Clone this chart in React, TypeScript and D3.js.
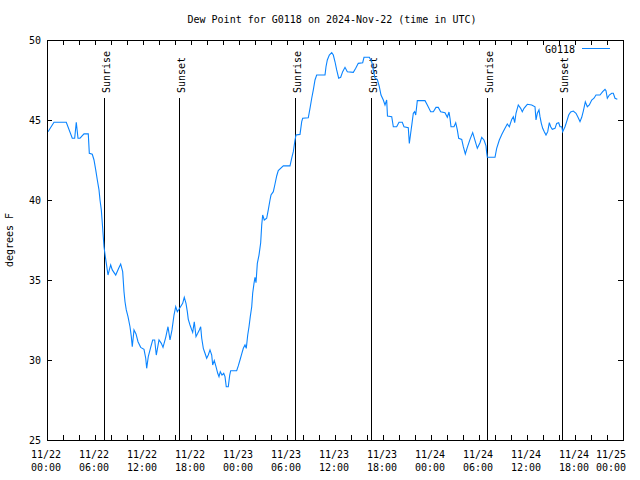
import React from "react";
import * as d3 from "d3";

const TITLE = "Dew Point for G0118 on 2024-Nov-22 (time in UTC)";
const SERIES_NAME = "G0118";
const Y_LABEL = "degrees F";
const START = Date.UTC(2024, 10, 22, 0, 0);

const hoursSinceStart = [0.125,0.875,2.41,3.16,3.46,3.66,3.875,4.125,4.625,5.16,5.29,5.66,5.875,6.09,6.29,6.5,6.625,6.79,6.96,7.125,7.29,7.46,7.625,7.79,7.96,8.16,8.59,8.96,9.21,9.46,9.625,9.75,9.91,10.125,10.375,10.54,10.66,10.875,11.125,11.375,11.71,12.125,12.34,12.46,12.66,12.96,13.21,13.46,13.66,14.0,14.29,14.5,14.84,15.125,15.375,15.625,15.875,16.09,16.29,16.5,16.96,17.16,17.375,17.54,17.66,17.875,18.09,18.21,18.41,18.625,18.84,19.04,19.21,19.34,19.54,19.75,19.96,20.16,20.375,20.59,20.71,20.91,21.125,21.34,21.5,21.66,21.875,22.09,22.25,22.41,22.66,22.84,22.96,23.71,23.91,24.125,24.34,24.54,24.75,24.91,25.09,25.25,25.41,25.59,25.71,25.875,26.0,26.125,26.29,26.5,26.71,26.84,26.96,27.16,27.46,27.66,27.875,28.0,28.29,28.5,28.71,28.91,29.54,30.375,30.59,30.79,31.0,31.125,31.625,31.84,31.96,32.66,32.875,33.09,33.29,33.5,33.71,34.75,34.875,35.04,35.29,35.59,35.79,36.0,36.21,36.46,36.71,36.96,37.25,37.54,38.29,38.59,38.91,39.46,39.625,40.29,40.59,40.79,41.0,41.29,41.54,41.75,42.04,42.25,42.46,42.56,43.09,43.29,43.71,44.0,44.41,44.625,45.16,45.29,45.46,45.625,45.79,45.96,46.09,46.29,47.25,47.54,47.96,48.29,48.625,48.91,49.21,49.75,50.04,50.25,50.375,50.5,50.875,51.09,51.29,51.46,51.84,52.04,52.29,52.54,52.875,53.21,53.46,53.79,54.125,54.34,54.625,54.875,54.96,55.04,56.0,56.21,56.54,56.875,57.25,57.54,57.79,58.09,58.29,58.46,58.625,58.91,59.21,59.41,59.625,60.04,60.59,61.0,61.125,61.29,61.5,61.625,61.79,61.96,62.16,62.375,62.59,62.79,62.96,63.16,63.5,63.71,63.96,64.125,64.34,64.46,64.75,64.96,65.21,65.46,65.79,66.125,66.375,66.625,66.84,67.04,67.29,67.54,67.79,68.09,68.375,68.625,69.125,69.46,69.75,69.875,70.04,70.29,70.59,70.79,71.0,71.29];

const dewPointF = [44.27,44.86,44.86,43.86,43.86,44.86,43.86,43.86,44.13,44.13,42.92,42.86,42.5,41.88,41.25,40.63,40.0,39.38,38.23,37.08,36.46,35.88,35.31,35.63,35.94,35.63,35.31,35.73,36.0,35.52,34.27,33.64,33.13,32.71,32.08,31.46,30.83,31.88,31.63,31.14,30.79,30.67,30.11,29.48,30.21,30.79,31.25,31.25,30.31,31.25,31.04,30.79,31.42,32.08,31.25,31.88,32.81,33.33,33.02,33.17,33.54,33.92,33.54,33.02,32.54,32.19,31.88,31.73,32.39,31.46,31.67,31.88,32.08,31.36,30.73,30.42,30.11,30.31,30.63,30.31,29.69,29.96,29.58,29.17,28.96,29.27,29.06,29.17,28.96,28.33,28.33,29.06,29.33,29.33,29.63,30.0,30.38,30.73,30.94,30.73,31.56,32.08,32.71,33.33,34.17,34.79,35.17,34.83,36.04,36.56,37.33,38.44,39.06,38.75,38.86,39.38,40.0,40.31,40.52,41.0,41.5,41.84,42.13,42.13,42.61,43.02,43.75,44.06,44.1,44.9,45.11,45.14,45.73,46.36,46.88,47.5,47.81,47.81,48.33,48.75,49.06,49.21,49.06,48.64,48.13,47.61,47.67,48.02,48.29,48.02,47.98,48.23,48.54,48.58,48.92,48.92,48.64,48.13,47.61,47.54,47.08,46.56,46.25,45.94,46.25,45.25,45.21,44.58,44.58,44.86,44.86,44.58,44.52,43.54,44.17,44.79,45.42,45.52,45.31,46.21,46.21,45.94,45.52,45.52,45.79,45.79,45.52,45.46,45.17,45.5,45.11,44.58,44.58,44.83,44.38,43.86,43.79,43.33,42.88,43.29,43.79,44.21,43.79,43.23,43.58,43.92,43.75,43.38,42.96,42.67,42.67,43.23,43.75,44.13,44.48,44.75,44.58,45.04,45.21,44.83,45.42,45.94,45.73,45.52,45.73,45.98,45.94,45.83,45.0,45.42,45.63,45.21,44.79,44.48,44.27,44.06,44.27,44.83,44.58,44.42,44.48,44.79,44.83,44.58,44.58,44.27,44.58,44.9,45.31,45.5,45.56,45.42,45.17,44.9,45.17,45.56,46.14,45.83,45.94,46.25,46.36,46.56,46.56,46.77,46.92,46.83,46.36,46.56,46.67,46.67,46.36,46.3];

const sunEventHours = [7.125, 16.5, 31.0, 40.5, 55.0, 64.4];
const sunEventLabels = ["Sunrise", "Sunset", "Sunrise", "Sunset", "Sunrise", "Sunset"];

const yTicks = [25, 30, 35, 40, 45, 50];

const W = 640, H = 480;
const M = { left: 47, right: 623, top: 40, bottom: 440 };
const FONT = "'DejaVu Sans Mono', monospace";
const LINE_COLOR = "#0a84ff";

const toDate = (h: number) => new Date(START + h * 3600 * 1000);

export default function App() {
  const x = d3.scaleUtc().domain([toDate(0), toDate(72)]).range([M.left, M.right]);
  const y = d3.scaleLinear().domain([25, 50]).range([M.bottom, M.top]);

  const n = Math.min(hoursSinceStart.length, dewPointF.length);
  const pts: [Date, number][] = [];
  for (let i = 0; i < n; i++) pts.push([toDate(hoursSinceStart[i]), dewPointF[i]]);

  const line = d3.line<[Date, number]>().x((d) => x(d[0])).y((d) => y(d[1]));

  const minorTicks = d3.utcHour.every(2)!.range(toDate(0), toDate(72.01));
  const majorTicks = d3.utcHour.every(6)!.range(toDate(0), toDate(72.01));
  const fmtDate = d3.utcFormat("%m/%d");
  const fmtTime = d3.utcFormat("%H:%M");

  return (
    <svg width={W} height={H} style={{ position: "absolute", left: 0, top: 0, background: "#fff" }} fontFamily={FONT} fontSize={10}>
      <rect x={0} y={0} width={W} height={H} fill="#fff" />
      <text x={332} y={23} textAnchor="middle">{TITLE}</text>

      {/* sun event lines */}
      {sunEventHours.map((h, i) => {
        const sx = Math.round(x(toDate(h))) + 0.5;
        return (
          <g key={"s" + i}>
            <line x1={sx} x2={sx} y1={98} y2={M.bottom} stroke="#000" strokeWidth={1} shapeRendering="crispEdges" />
            <text transform={`translate(${sx + 5},93) rotate(-90)`} textAnchor="start">{sunEventLabels[i]}</text>
          </g>
        );
      })}

      {/* data line */}
      <path d={line(pts) || ""} fill="none" stroke={LINE_COLOR} strokeWidth={1.1} />

      {/* frame */}
      <rect x={M.left + 0.5} y={M.top + 0.5} width={M.right - M.left} height={M.bottom - M.top} fill="none" stroke="#000" strokeWidth={1} shapeRendering="crispEdges" />

      {/* x ticks */}
      {minorTicks.map((t, i) => {
        const tx = Math.round(x(t)) + 0.5;
        return (
          <g key={"xt" + i} shapeRendering="crispEdges">
            <line x1={tx} x2={tx} y1={M.bottom} y2={M.bottom - 5} stroke="#000" />
            <line x1={tx} x2={tx} y1={M.top} y2={M.top + 5} stroke="#000" />
          </g>
        );
      })}
      {majorTicks.map((t, i) => {
        const tx = Math.min(x(t) - 1, 611);
        return (
          <g key={"xl" + i}>
            <text x={tx} y={458} textAnchor="middle">{fmtDate(t)}</text>
            <text x={tx} y={471} textAnchor="middle">{fmtTime(t)}</text>
          </g>
        );
      })}

      {/* y ticks */}
      {yTicks.map((v, i) => {
        const ty = Math.round(y(v)) + 0.5;
        return (
          <g key={"yt" + i}>
            <line x1={M.left} x2={M.left + 5} y1={ty} y2={ty} stroke="#000" shapeRendering="crispEdges" />
            <line x1={M.right} x2={M.right - 5} y1={ty} y2={ty} stroke="#000" shapeRendering="crispEdges" />
            <text x={41} y={ty + 3.5} textAnchor="end">{v}</text>
          </g>
        );
      })}

      <text transform={`translate(13,240) rotate(-90)`} textAnchor="middle">{Y_LABEL}</text>

      {/* legend */}
      <text x={575} y={53} textAnchor="end">{SERIES_NAME}</text>
      <line x1={582} x2={610} y1={48.5} y2={48.5} stroke={LINE_COLOR} strokeWidth={1} />
    </svg>
  );
}
